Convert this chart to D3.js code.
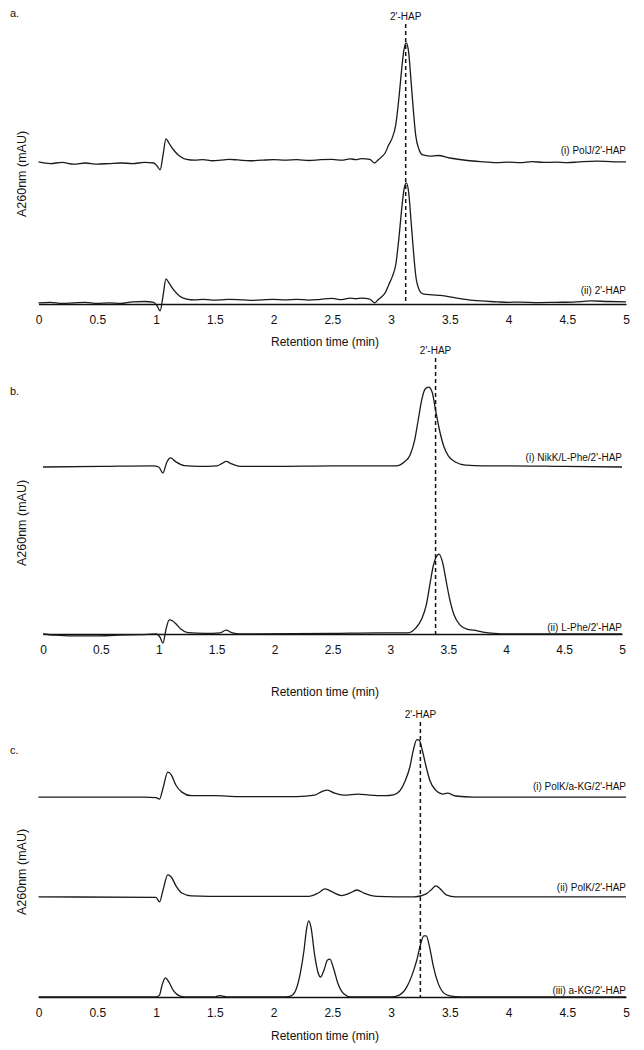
<!DOCTYPE html>
<html>
<head>
<meta charset="utf-8">
<script src="https://d3js.org/d3.v7.min.js"></script>
<style>
  body { margin: 0; background: #fff; }
  svg { display: block; }
  .tick text { font-family: "Liberation Sans", Arial, sans-serif; font-size: 12px; fill: #111; }
  .lbl { font-family: "Liberation Sans Narrow", "Liberation Sans", sans-serif; fill: #111; }
</style>
</head>
<body>
<script>
// x ticks (min)
var xTicks = [0, 0.5, 1, 1.5, 2, 2.5, 3, 3.5, 4, 4.5, 5];

// 2'-HAP reference line per panel (min)
var hapTimes = [3.125, 3.39, 3.25];

// trace labels
var labelsA = ["(i) PolJ/2'-HAP", "(ii) 2'-HAP"];
var labelsB = ["(i) NikK/L-Phe/2'-HAP", "(ii) L-Phe/2'-HAP"];
var labelsC = ["(i) PolK/a-KG/2'-HAP", "(ii) PolK/2'-HAP", "(iii) a-KG/2'-HAP"];

// vertical offsets of the stacked traces (mAU)
var offsetsA = [51.0, 0.4];
var offsetsB = [60.4, 0];
var offsetsC = [72.3, 36.2, 0];

// traces: [time, absorbance above own baseline]
var traceA1 = [[0,0.4],[0.1,-0.2],[0.2,0.2],[0.3,-0.4],[0.4,0],[0.5,-0.4],[0.6,-0.2],[0.7,0],[0.8,-0.2],[0.9,0.2],[0.98,0],[1.01,-1.1],[1.035,-2.5],[1.06,2.9],[1.085,8.7],[1.11,7.2],[1.15,4.7],[1.2,2.5],[1.26,1.3],[1.33,1.0],[1.4,1.2],[1.48,0.8],[1.55,1.0],[1.62,1.3],[1.7,1.1],[1.8,0.8],[1.9,1.0],[2.0,1.2],[2.1,1.0],[2.2,1.2],[2.3,0.9],[2.4,1.2],[2.5,1.3],[2.58,1.0],[2.65,1.5],[2.7,1.2],[2.75,1.6],[2.82,1.3],[2.86,0],[2.89,1.1],[2.92,2.2],[2.95,3.6],[2.98,6.5],[3.01,9.0],[3.04,13.7],[3.07,24.6],[3.09,33.6],[3.11,40.9],[3.13,43.4],[3.15,40.1],[3.17,30.0],[3.19,19.2],[3.21,10.1],[3.24,4.7],[3.27,2.9],[3.33,2.5],[3.4,2.7],[3.5,1.8],[3.65,0.9],[3.8,0.4],[3.9,0.1],[4.0,0.3],[4.1,0.1],[4.2,0.5],[4.3,0.2],[4.4,0.3],[4.5,0.1],[4.6,0.4],[4.75,0.7],[4.9,0.4],[5.0,0.4]];
var traceA2 = [[0,0],[0.1,0.2],[0.2,-0.2],[0.3,0],[0.4,0.2],[0.5,-0.2],[0.6,0],[0.7,-0.2],[0.8,0.4],[0.9,0.5],[0.98,0.2],[1.01,-1.1],[1.035,-2.9],[1.06,2.5],[1.085,8.7],[1.11,7.2],[1.15,4.7],[1.2,2.5],[1.26,1.4],[1.33,1.1],[1.4,1.3],[1.48,1.0],[1.55,1.1],[1.62,1.3],[1.7,1.2],[1.8,0.9],[1.9,1.1],[2.0,1.3],[2.1,1.1],[2.2,1.3],[2.3,1.0],[2.4,1.3],[2.5,1.6],[2.58,1.2],[2.65,1.7],[2.7,1.5],[2.75,1.7],[2.82,1.4],[2.86,0],[2.89,1.1],[2.92,2.2],[2.95,3.6],[2.98,6.5],[3.01,9.4],[3.04,13.7],[3.07,24.6],[3.09,33.6],[3.11,40.9],[3.13,43.4],[3.15,40.1],[3.17,30.0],[3.19,19.2],[3.21,10.1],[3.24,4.7],[3.27,3.3],[3.35,2.9],[3.42,2.7],[3.55,1.8],[3.7,0.9],[3.9,0.4],[4.0,0.2],[4.1,0.3],[4.25,0.1],[4.4,0.2],[4.55,0.3],[4.7,0.7],[4.85,0.5],[5.0,0.4]];
var traceB1 = [[0,0],[0.5,0.2],[0.95,0.4],[1.0,0],[1.035,-2.2],[1.07,1.8],[1.1,3.3],[1.15,1.8],[1.22,0.5],[1.35,0.2],[1.5,0.4],[1.55,1.4],[1.58,2.0],[1.63,1.1],[1.7,0.2],[2.0,0.2],[2.5,0.4],[3.05,0.4],[3.12,1.8],[3.17,4.3],[3.21,9.8],[3.24,17.0],[3.27,24.2],[3.3,28.2],[3.33,28.9],[3.36,27.1],[3.39,20.6],[3.42,14.1],[3.46,7.6],[3.5,4.0],[3.56,1.8],[3.65,0.7],[3.8,0.4],[4.0,0.4],[4.5,0.2],[5.0,0]];
var traceB2 = [[0,0],[0.1,-0.4],[0.25,-0.7],[0.45,-0.7],[0.65,-0.4],[0.85,-0.2],[0.98,0],[1.01,-1.1],[1.035,-3.3],[1.065,2.2],[1.09,5.1],[1.12,4.7],[1.15,3.6],[1.19,1.8],[1.25,0.5],[1.4,0.2],[1.53,0.4],[1.58,1.4],[1.63,0.5],[1.7,0],[2.5,0.2],[2.9,0.4],[3.15,0.4],[3.22,2.2],[3.27,5.4],[3.31,10.5],[3.34,17.7],[3.37,24.6],[3.4,28.2],[3.42,28.9],[3.45,26.0],[3.48,19.5],[3.51,13.0],[3.55,6.9],[3.6,3.3],[3.66,1.8],[3.72,1.4],[3.8,0.7],[3.9,0.2],[4.0,0],[5.0,0]];
var traceC1 = [[0,0],[0.9,0],[1.0,-0.2],[1.03,-0.7],[1.06,3.3],[1.1,9.0],[1.13,8.0],[1.17,4.3],[1.22,1.8],[1.3,0.5],[1.5,0.5],[1.7,0.2],[2.2,0.2],[2.35,0.7],[2.42,2.2],[2.46,2.5],[2.52,1.4],[2.6,0.7],[2.72,1.1],[2.82,0.7],[2.95,0.5],[3.02,0.8],[3.08,2.5],[3.12,5.8],[3.16,10.8],[3.19,17.0],[3.22,20.8],[3.24,20.6],[3.27,16.3],[3.3,10.8],[3.33,6.1],[3.38,2.5],[3.44,1.1],[3.48,1.4],[3.55,0.4],[3.7,0],[5.0,0]];
var traceC2 = [[0,0],[1.0,-0.2],[1.03,-1.8],[1.06,2.5],[1.1,8.0],[1.13,7.2],[1.17,4.0],[1.22,1.4],[1.3,0.4],[1.6,0.2],[2.3,0.2],[2.38,1.4],[2.44,2.9],[2.5,1.8],[2.58,0.5],[2.65,1.4],[2.71,2.5],[2.77,1.4],[2.88,0.2],[3.2,0],[3.3,1.1],[3.35,2.9],[3.38,4.0],[3.42,2.9],[3.47,0.7],[3.55,0],[5.0,0]];
var traceC3 = [[0,0],[1.0,0],[1.03,0.7],[1.05,4.0],[1.08,6.9],[1.11,5.4],[1.15,2.2],[1.2,0.4],[1.25,0],[1.5,0],[1.53,0.4],[1.55,0.5],[1.58,0.2],[1.62,0],[2.1,0],[2.15,0.4],[2.19,2.5],[2.23,9.0],[2.26,17.0],[2.28,24.2],[2.3,27.5],[2.32,25.0],[2.35,15.2],[2.38,8.7],[2.4,7.2],[2.43,9.8],[2.46,13.4],[2.48,13.7],[2.51,10.5],[2.55,4.7],[2.6,1.1],[2.66,0],[3.0,0],[3.07,0.7],[3.13,3.3],[3.18,8.0],[3.22,13.4],[3.25,18.8],[3.28,22.1],[3.3,22.1],[3.33,17.7],[3.36,11.2],[3.4,5.1],[3.45,1.4],[3.5,0.4],[3.6,0],[5.0,0]];

var W = 644, H = 1050;
var svg = d3.select("body").append("svg").attr("width", W).attr("height", H);

var panels = [
  { tag: "a.", tagY: 14, x0: 38.5, x1: 626, axisY: 304, hapY: 17, titleY: 343, ylabY: 174,
    traces: [traceA1, traceA2], offsets: offsetsA, labels: labelsA, labDy: [-12, -12], hap: hapTimes[0] },
  { tag: "b.", tagY: 392, x0: 43, x1: 622, axisY: 634, hapY: 351, titleY: 693, ylabY: 523,
    traces: [traceB1, traceB2], offsets: offsetsB, labels: labelsB, labDy: [-9, -6], hap: hapTimes[1] },
  { tag: "c.", tagY: 751, x0: 38.5, x1: 626, axisY: 997, hapY: 715, titleY: 1037, ylabY: 872,
    traces: [traceC1, traceC2, traceC3], offsets: offsetsC, labels: labelsC, labDy: [-10, -9, -6], hap: hapTimes[2] }
];

panels.forEach(function(p) {
  var x = d3.scaleLinear().domain([0, 5]).range([p.x0, p.x1]);
  var y = d3.scaleLinear().domain([0, 100]).range([p.axisY, p.axisY - 276.5]);
  var g = svg.append("g");

  // x axis
  var ax = g.append("g")
    .attr("transform", "translate(0," + p.axisY + ")")
    .call(d3.axisBottom(x).tickValues(xTicks).tickSize(0).tickPadding(11).tickFormat(d3.format("")));
  ax.select(".domain").attr("stroke", "#111").attr("stroke-width", 1.6);

  // traces
  p.traces.forEach(function(tr, i) {
    var off = p.offsets[i];
    var line = d3.line()
      .x(function(d) { return x(d[0]); })
      .y(function(d) { return y(d[1] + off); })
      .curve(d3.curveMonotoneX);
    g.append("path")
      .datum(tr)
      .attr("d", line)
      .attr("fill", "none")
      .attr("stroke", "#1a1a1a")
      .attr("stroke-width", 1.3);

    g.append("text")
      .attr("class", "lbl")
      .attr("x", p.x1)
      .attr("y", y(off) + p.labDy[i])
      .attr("text-anchor", "end")
      .attr("dominant-baseline", "middle")
      .style("font-size", "10px")
      .text(p.labels[i]);
  });

  // 2'-HAP dashed marker
  g.append("line")
    .attr("x1", x(p.hap)).attr("x2", x(p.hap))
    .attr("y1", p.hapY + 7).attr("y2", p.axisY)
    .attr("stroke", "#111").attr("stroke-width", 1.5)
    .attr("stroke-dasharray", "4,3");
  g.append("text")
    .attr("class", "lbl")
    .attr("x", x(p.hap)).attr("y", p.hapY)
    .attr("text-anchor", "middle").attr("dominant-baseline", "middle")
    .style("font-size", "10px")
    .text("2'-HAP");

  // panel tag
  g.append("text")
    .attr("class", "lbl")
    .attr("x", 10).attr("y", p.tagY)
    .attr("dominant-baseline", "middle")
    .style("font-size", "11px")
    .text(p.tag);

  // axis titles
  g.append("text")
    .attr("class", "lbl")
    .attr("x", 325).attr("y", p.titleY)
    .attr("text-anchor", "middle").attr("dominant-baseline", "middle")
    .style("font-size", "12px")
    .text("Retention time (min)");

  g.append("text")
    .attr("transform", "translate(23," + p.ylabY + ") rotate(-90)")
    .attr("text-anchor", "middle").attr("dominant-baseline", "middle")
    .style("font-family", "Liberation Sans, Arial, sans-serif")
    .style("font-size", "12.5px")
    .style("fill", "#111")
    .text("A260nm (mAU)");
});
</script>
</body>
</html>
